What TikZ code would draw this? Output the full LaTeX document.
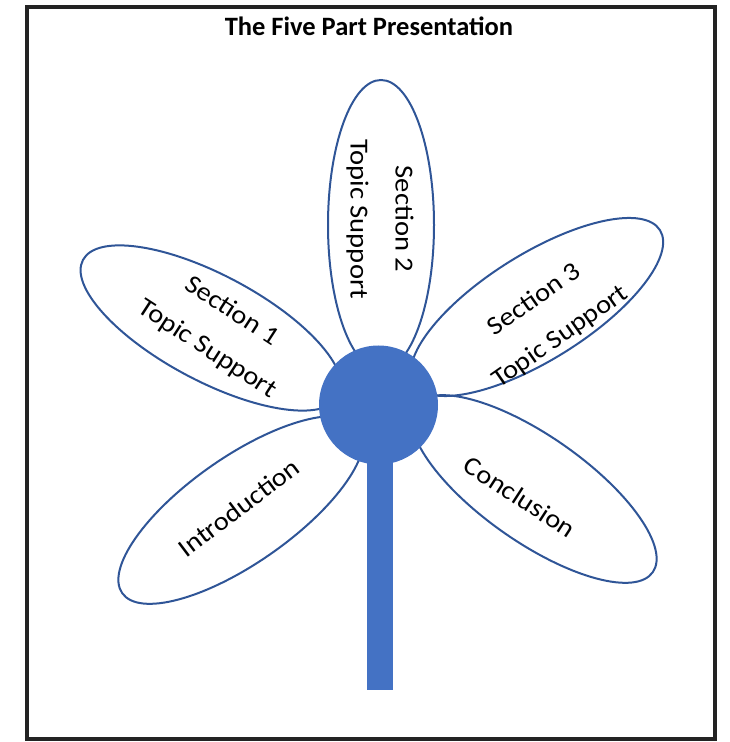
\documentclass[tikz,border=0pt]{standalone}
\usepackage{fontspec}
\setmainfont{Carlito}
\newfontfamily\petalfont[FakeStretch=1.1]{Carlito}
\usetikzlibrary{shapes.geometric}
\definecolor{flowerblue}{RGB}{68,114,196}
\definecolor{petalline}{RGB}{47,85,151}
\definecolor{framegray}{RGB}{35,35,35}
\tikzset{
  petal/.style={ellipse, draw=petalline, line width=2pt, inner sep=0pt,
    minimum width=290pt, minimum height=106pt},
  petaltext/.style={font=\petalfont\fontsize{26}{45}\selectfont, align=center,
    inner sep=0pt, text=black},
  titletext/.style={font=\bfseries\fontsize{26.5}{30}\selectfont, anchor=base, inner sep=0pt},
}
\begin{document}
\begin{tikzpicture}[x=1pt,y=1pt]
\useasboundingbox (0,0) rectangle (729,742);
\node[draw=framegray, line width=4pt, minimum width=688pt, minimum height=732pt, inner sep=0pt] (frame) at (371,369) {};
\node[titletext] (title) at (369,706) {The Five Part Presentation};
% petals
\node[petal, rotate=90] (p2) at (381,517) {};
\node[petal, rotate=-28] (p1) at (211,414) {};
\node[petal, rotate=32] (p3) at (537,435) {};
\node[petal, rotate=35] (p4) at (241,232) {};
\node[petal, rotate=-35] (p5) at (534,253) {};
% stem and centre
\node[fill=flowerblue, inner sep=0pt, minimum width=26pt, minimum height=285pt, anchor=south] (stem) at (380,52) {};
\node[circle, fill=flowerblue, inner sep=0pt, minimum size=119pt] (centre) at (378.5,337) {};
% labels
\node[petaltext, rotate=-90] (t2) at (380,523) {Section 2\\Topic Support};
\node[petaltext, rotate=-33] (t1) at (219.5,411.5) {Section 1\\Topic Support};
\node[petaltext, rotate=35] (t3) at (547.5,423.5) {Section 3\\Topic Support};
\node[petaltext, rotate=37] (t4) at (239,234.5) {Introduction};
\node[petaltext, rotate=-33] (t5) at (520,245) {Conclusion};
\end{tikzpicture}
\end{document}
